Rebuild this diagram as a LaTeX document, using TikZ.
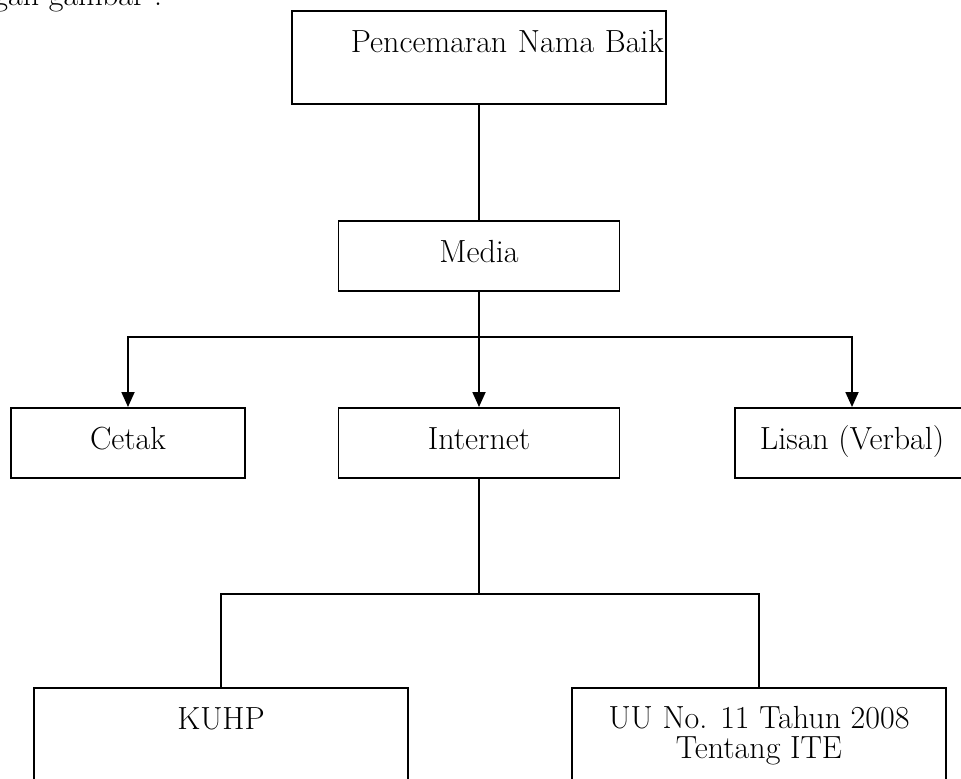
\documentclass[tikz,border=0pt]{standalone}
\usepackage{tikz}
\usetikzlibrary{arrows.meta,positioning}

\begin{document}
\begin{tikzpicture}[x=0.5pt, y=-0.5pt, line width=0.9pt,
  font=\fontsize{16}{15}\selectfont,
  box/.style={draw, inner xsep=0pt, inner ysep=0pt, text height=21pt, text depth=14pt},
  arr/.style={-{Triangle[length=7.5pt,width=6.5pt]}}]
\useasboundingbox (0,0) rectangle (961,778);
\clip (0,0) rectangle (961,778);
% line of text cut off at the top
\node[anchor=base east, inner sep=0pt] (cap) at (163,5) {dengan gambar :};
% boxes
\node[box, anchor=north, minimum width=187pt, text width=185pt, align=right, text depth=25.5pt] (pnb) at (479,10) {Pencemaran Nama Baik};
\node[box, anchor=north, minimum width=140.5pt] (media) at (479,220) {Media};
\node[box, anchor=north, minimum width=117pt] (cetak) at (128,407) {Cetak};
\node[box, anchor=north, minimum width=140.5pt] (internet) at (479,407) {Internet};
\node[box, anchor=north, minimum width=117pt] (lisan) at (852,407) {Lisan (Verbal)};
\node[box, anchor=north, minimum width=187pt, text depth=60pt] (kuhp) at (221,687) {KUHP};
\node[box, anchor=north, minimum width=187pt, align=center, text height=35.5pt, text depth=40pt] (uu) at (759,687) {UU No. 11 Tahun 2008\\Tentang ITE};
% connectors
\coordinate (fork1) at (479,337);
\coordinate (fork2) at (479,594);
\draw (pnb.south) -- (pnb.south |- media.north);
\draw (media) -- (fork1);
\draw[arr] (fork1) -| (cetak);
\draw[arr] (fork1) -- (internet);
\draw[arr] (fork1) -| (lisan);
\draw (internet) -- (fork2);
\draw (fork2) -| (kuhp);
\draw (fork2) -| (uu);
\end{tikzpicture}
\end{document}
